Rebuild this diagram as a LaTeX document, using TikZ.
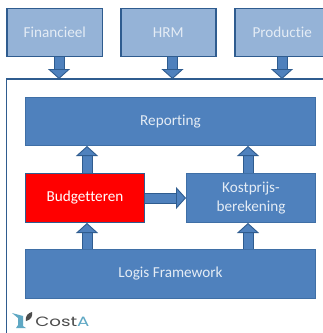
\documentclass[tikz,border=0pt]{standalone}
\usepackage{fontspec}
\setmainfont[Ligatures=NoCommon]{Carlito}
\newfontfamily\logofont{Poppins}
\usetikzlibrary{arrows.meta}
\definecolor{lightb}{HTML}{95B3D7}
\definecolor{midb}{HTML}{4F81BD}
\definecolor{darkb}{HTML}{2F5C8F}
\definecolor{edgeb}{HTML}{3F6FA6}
\definecolor{txt}{HTML}{E4ECF5}
\definecolor{logob}{HTML}{5FA8C4}
\tikzset{
  box/.style={draw=edgeb,line width=1pt,rectangle,minimum height=48pt,inner sep=0pt,text=txt,font=\fontsize{15.2}{19}\selectfont,align=center,anchor=north west,execute at begin node={\vspace*{2pt}}},
  srcbox/.style={box,fill=lightb,draw=darkb,line width=1.6pt,minimum width=95pt},
  appbox/.style={box,fill=midb},
  redbox/.style={box,fill=red,draw=darkb,text=white},
  block/.style={line width=9pt,draw=midb,
    -{Triangle[length=10pt,width=22pt,line width=.9pt,color=darkb,fill=midb,sep=0pt]},
    preaction={draw=darkb,line width=11pt,shorten >=9pt,-}},
}
\begin{document}
\begin{tikzpicture}[x=1pt,y=-1pt]
\useasboundingbox (0,0) rectangle (323,333);
\fill[white] (0,0) rectangle (323,333);
\draw[darkb,line width=1.3pt] (6.5,333) -- (6.5,79) -- (323,79);
\node[srcbox] (fin) at (6.5,7.5) {Financieel};
\node[srcbox] (hrm) at (120,7.5) {HRM};
\node[srcbox] (pro) at (234,7.5) {Productie};
\node[appbox,minimum width=290pt] (rep) at (25,97) {Reporting};
\node[redbox,minimum width=119pt,minimum height=49pt] (bud) at (25,173) {Budgetteren};
\node[appbox,minimum width=129pt,minimum height=49pt] (kos) at (186,173) {Kostprijs-\\berekening};
\node[appbox,minimum width=290pt,minimum height=49pt] (log) at (25,249) {Logis Framework};
\coordinate (c1) at (87,0);
\coordinate (c2) at (248,0);
\coordinate (fa) at (59,79);
\coordinate (ha) at (172.5,79);
\coordinate (pa) at (282,79);
\draw[block] (fin.south -| fa) -- (fa);
\draw[block] (hrm.south -| ha) -- (ha);
\draw[block] (pro.south -| pa) -- (pa);
\draw[block] (bud.north -| c1) -- (rep.south -| c1);
\draw[block] (kos.north -| c2) -- (rep.south -| c2);
\draw[block] (log.north -| c1) -- (bud.south -| c1);
\draw[block] (log.north -| c2) -- (kos.south -| c2);
\draw[block] (bud.east) -- (kos.west);
% logo
\fill[logob] (12,313) -- (23,316) -- (23,326) -- (26,328) -- (16,328) -- (18,325) -- (18,318) -- cycle;
\fill[black!70] (26,321) .. controls (25,316) and (28,313) .. (32,312) .. controls (33,316) and (31,320) .. (26,321) -- cycle;
\node[anchor=west,inner sep=0pt,xscale=1.35,text=black!70,font=\logofont\fontsize{13.5}{15}\selectfont] (cost) at (35,321.5) {Cost\textcolor{logob}{A}};
\end{tikzpicture}
\end{document}
